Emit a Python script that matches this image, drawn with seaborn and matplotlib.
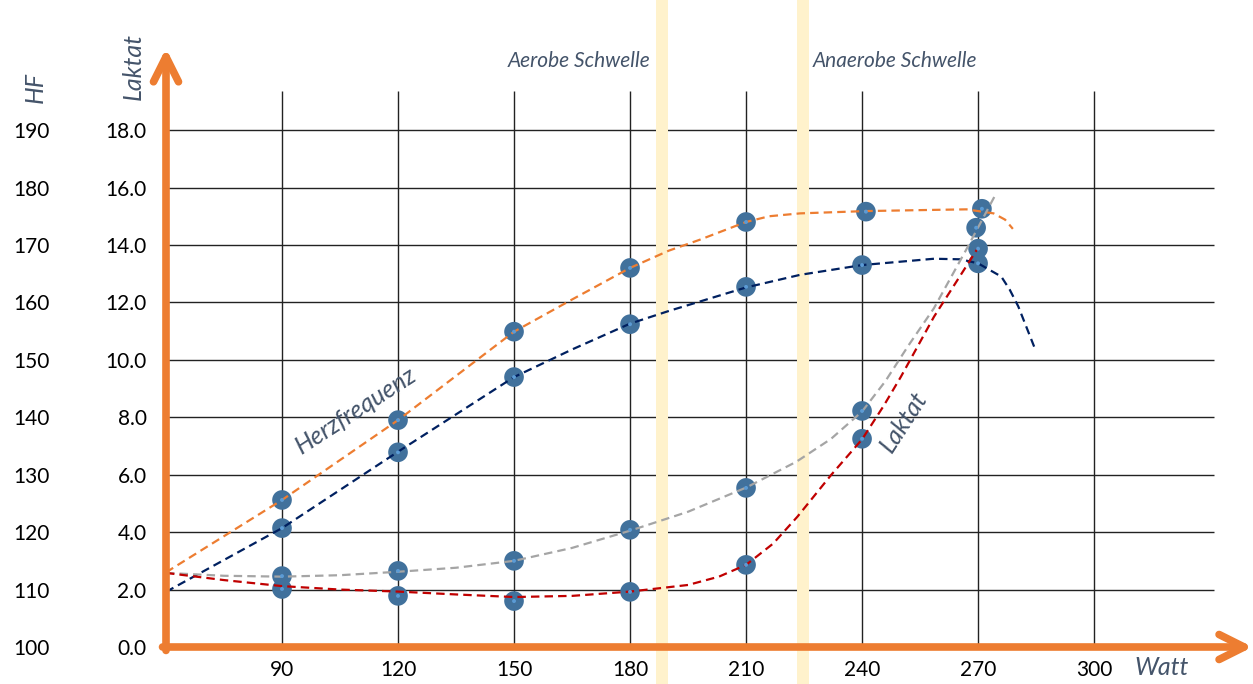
import numpy as np
import pandas as pd
import matplotlib
matplotlib.use("Agg")
import matplotlib.pyplot as plt
import seaborn as sns

# Achsen / Ticks
watt_ticks = [90, 120, 150, 180, 210, 240, 270, 300]
laktat_ticks = [0, 2, 4, 6, 8, 10, 12, 14, 16, 18]
hf_ticks = [100, 110, 120, 130, 140, 150, 160, 170, 180, 190]

# Messpunkte Herzfrequenz (bpm)
hf1_watt = [90, 120, 150, 180, 210, 241, 271]
hf1_bpm = [125.6, 139.5, 154.9, 166.0, 174.0, 175.8, 176.3]
hf2_watt = [90, 120, 150, 180, 210, 240, 270]
hf2_bpm = [120.7, 133.9, 147.0, 156.2, 162.7, 166.5, 166.8]

# Messpunkte Laktat (mmol/l)
lak1_watt = [90, 120, 150, 180, 210, 240, 269.5]
lak1 = [2.47, 2.65, 3.0, 4.08, 5.54, 8.22, 14.6]
lak2_watt = [90, 120, 150, 180, 210, 240, 270]
lak2 = [2.02, 1.78, 1.6, 1.92, 2.86, 7.25, 13.87]

# Trendlinien
hf1_trend_watt = [60, 90, 120, 150, 165, 180, 190, 198, 210, 216, 224, 241, 258, 267, 274, 277, 279]
hf1_trend_bpm = [113.0, 125.6, 139.5, 154.9, 160.5, 166.0, 169.0, 170.9, 174.0, 175.0, 175.5,
                 175.9, 176.1, 176.2, 175.5, 174.4, 172.8]
hf2_trend_watt = [60, 90, 120, 150, 165, 180, 190, 210, 224, 240, 258.6, 265.5, 270, 276, 278.2, 280.4, 284.5]
hf2_trend_bpm = [109.6, 120.7, 134.0, 147.0, 151.8, 156.3, 158.5, 162.6, 164.8, 166.5, 167.6, 167.5,
                 166.8, 164.5, 162.2, 159.3, 152.3]
lak1_trend_watt = [60, 75, 90, 105, 120, 135, 150, 165, 180, 195, 210, 223, 232, 240, 246, 252, 258.6, 267.4, 274.7]
lak1_trend = [2.58, 2.48, 2.45, 2.5, 2.62, 2.76, 3.0, 3.45, 4.05, 4.71, 5.55, 6.45, 7.25, 8.2, 9.25,
              10.5, 11.8, 13.95, 15.8]
lak2_trend_watt = [60, 75, 90, 105, 120, 135, 150, 165, 180, 195, 203, 210, 217, 223.3, 232, 240, 245.6, 250, 258.6, 270]
lak2_trend = [2.58, 2.33, 2.12, 2.0, 1.93, 1.83, 1.74, 1.78, 1.93, 2.16, 2.45, 2.86, 3.6, 4.54, 5.99,
              7.23, 8.4, 9.4, 11.5, 13.9]

schwellen = [("Aerobe Schwelle", 186.7, 189.8), ("Anaerobe Schwelle", 223.2, 226.3)]

ORANGE = "#ED7D31"
TXT = "#44546A"


def hf_to_lak(h):
    return (np.asarray(h, dtype=float) - 100) / 5


def lak_to_hf(l):
    return np.asarray(l, dtype=float) * 5 + 100


sns.set_theme(style="white")
plt.rcParams["font.family"] = ["Lato", "DejaVu Sans"]

fig = plt.figure(figsize=(12.53, 6.84), dpi=100)
ax = fig.add_axes([166 / 1253, 37 / 684, 1087 / 1253, 647 / 684])
ax.set_xlim(60, 341.1)
ax.set_ylim(0, 22.53)
for s in ax.spines.values():
    s.set_visible(False)

# Gitter
ax.hlines(laktat_ticks[1:], 60, 331, color="#222222", lw=1.0, zorder=1)
ax.vlines(watt_ticks, 0, 19.35, color="#222222", lw=1.0, zorder=1)

# Schwellen-Balken
for name, x0, x1 in schwellen:
    ax.axvspan(x0, x1, ymin=-0.06, ymax=1.0, color="#FFF2CC", lw=0, zorder=2, clip_on=False)
    ax.text(x0 - 1.5 if name.startswith("Aerobe") else x1 + 1.0, 20.4, name,
            ha="right" if name.startswith("Aerobe") else "left", va="center",
            fontsize=15, style="italic", color=TXT)

# Punkte
pts = pd.concat([
    pd.DataFrame({"watt": hf1_watt, "wert": hf_to_lak(hf1_bpm)}),
    pd.DataFrame({"watt": hf2_watt, "wert": hf_to_lak(hf2_bpm)}),
    pd.DataFrame({"watt": lak1_watt, "wert": lak1}),
    pd.DataFrame({"watt": lak2_watt, "wert": lak2}),
])
sns.scatterplot(data=pts, x="watt", y="wert", s=200, color="#41719C", edgecolor="none",
                zorder=3, ax=ax, legend=False)

# Trendlinien
dash = (0, (3.8, 2.3))
sns.lineplot(x=hf1_trend_watt, y=hf_to_lak(hf1_trend_bpm), color=ORANGE, lw=1.6, linestyle=dash, zorder=4, ax=ax)
sns.lineplot(x=hf2_trend_watt, y=hf_to_lak(hf2_trend_bpm), color="#002060", lw=1.6, linestyle=dash, zorder=4, ax=ax)
sns.lineplot(x=lak1_trend_watt, y=lak1_trend, color="#A5A5A5", lw=1.6, linestyle=dash, zorder=4, ax=ax)
sns.lineplot(x=lak2_trend_watt, y=lak2_trend, color="#C00000", lw=1.6, linestyle=dash, zorder=4, ax=ax)

sns.scatterplot(data=pts, x="watt", y="wert", s=8, color="#5B9BD5", edgecolor="none",
                zorder=5, ax=ax, legend=False)

# Achsenpfeile
arrow = dict(arrowstyle="->,head_length=0.9,head_width=0.45", color=ORANGE, lw=5.5,
             shrinkA=0, shrinkB=0, mutation_scale=20, capstyle="round", joinstyle="round")
ax.annotate("", xy=(60, 20.85), xytext=(60, -0.12), arrowprops=arrow, annotation_clip=False, zorder=6)
ax.annotate("", xy=(341.0, 0), xytext=(59.1, 0), arrowprops=arrow, annotation_clip=False, zorder=6)

# Ticks
ax.set_xticks(watt_ticks)
ax.set_xticklabels([str(w) for w in watt_ticks])
ax.set_yticks(laktat_ticks)
ax.set_yticklabels([f"{v:.1f}" for v in laktat_ticks])
ax.tick_params(axis="both", length=0, labelsize=15, colors="black")
ax.tick_params(axis="x", pad=9)
ax.tick_params(axis="y", pad=14)
ax.set_xlabel("")
ax.set_ylabel("")

sec = ax.secondary_yaxis("left", functions=(lak_to_hf, hf_to_lak))
sec.set_yticks(hf_ticks)
sec.set_yticklabels([str(h) for h in hf_ticks])
sec.tick_params(length=0, pad=84, labelsize=15, colors="black")
for s in sec.spines.values():
    s.set_visible(False)

# Beschriftungen
ax.text(26.1, 19.5, "HF", rotation=90, ha="center", va="center", fontsize=18, style="italic",
        color=TXT, clip_on=False)
ax.text(51.5, 20.2, "Laktat", rotation=90, ha="center", va="center", fontsize=18, style="italic",
        color=TXT, clip_on=False)
ax.text(317.5, -0.73, "Watt", ha="center", va="center", fontsize=18, style="italic", color=TXT,
        clip_on=False)
ax.text(109, 8.25, "Herzfrequenz", rotation=33, ha="center", va="center", fontsize=18,
        style="italic", color=TXT, rotation_mode="anchor")
ax.text(250.8, 7.83, "Laktat", rotation=57, ha="center", va="center", fontsize=18,
        style="italic", color=TXT, rotation_mode="anchor")

fig.savefig("out.png", dpi=100)
